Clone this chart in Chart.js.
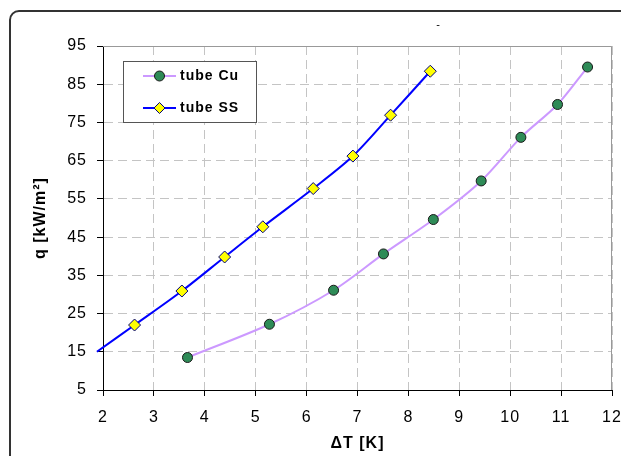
<!DOCTYPE html>
<html>
<head>
<meta charset="utf-8">
<script src="https://cdn.jsdelivr.net/npm/chart.js@4"></script>
<style>
  body { margin: 0; background: #fff; }
  canvas { display: block; }
</style>
</head>
<body>
<canvas id="qChart" width="621" height="456"></canvas>
<script>
// values
const cuX = [3.66, 5.27, 6.53, 7.51, 8.49, 9.43, 10.21, 10.93, 11.52];
const cuY = [13.5, 22.2, 31.1, 40.6, 49.6, 59.7, 71.1, 79.7, 89.5];
const ssX = [2.62, 3.55, 4.39, 5.14, 6.13, 6.91, 7.65, 8.43];
const ssY = [22.0, 30.9, 39.8, 47.7, 57.7, 66.2, 76.9, 88.4];
// SS curve keeps going a little past the y axis
const ssLineStart = [1.88, 15.0];

const xTicks = [2, 3, 4, 5, 6, 7, 8, 9, 10, 11, 12];
const yTicks = [5, 15, 25, 35, 45, 55, 65, 75, 85, 95];
const seriesNames = ['tube Cu', 'tube SS'];

const cuColor = '#cc99ff';
const ssColor = '#0000ff';

const toPoints = (xs, ys) => xs.map((x, i) => ({ x: x, y: ys[i] }));
const ssPoints = [{ x: ssLineStart[0], y: ssLineStart[1] }].concat(toPoints(ssX, ssY));

// outer frame, plot border and the tiny title dash
const framePlugin = {
    id: 'frame',
    beforeDraw(chart) {
        const ctx = chart.ctx;
        ctx.letterSpacing = '1px';
        ctx.save();
        ctx.fillStyle = '#fff';
        ctx.fillRect(0, 0, chart.width, chart.height);
        ctx.strokeStyle = '#333';
        ctx.lineWidth = 2;
        ctx.beginPath();
        ctx.roundRect(10, 11, 640, 470, 9);
        ctx.stroke();
        ctx.fillStyle = '#000';
        ctx.font = '11px Arial, "Liberation Sans"';
        ctx.textAlign = 'center';
        ctx.textBaseline = 'middle';
        ctx.fillText('-', 438.5, 25);
        ctx.restore();
    },
    beforeDatasetsDraw(chart) {
        const a = chart.chartArea;
        const ctx = chart.ctx;
        ctx.save();
        ctx.strokeStyle = '#999';
        ctx.lineWidth = 1;
        ctx.beginPath();
        ctx.moveTo(a.left, a.top + 0.5);
        ctx.lineTo(a.right - 0.5, a.top + 0.5);
        ctx.lineTo(a.right - 0.5, a.bottom);
        ctx.stroke();
        ctx.restore();
    }
};

// legend box sitting inside the plot, top left
const legendPlugin = {
    id: 'boxLegend',
    afterDatasetsDraw(chart) {
        const ctx = chart.ctx;
        ctx.save();
        ctx.fillStyle = '#fff';
        ctx.fillRect(123, 61, 134, 62);
        ctx.strokeStyle = '#555';
        ctx.lineWidth = 1;
        ctx.strokeRect(123.5, 61.5, 133, 61);

        const rows = [76, 108];
        chart.data.datasets.forEach((ds, i) => {
            const y = rows[i];
            ctx.strokeStyle = ds.borderColor;
            ctx.lineWidth = 2;
            ctx.beginPath();
            ctx.moveTo(143, y);
            ctx.lineTo(176, y);
            ctx.stroke();
            ctx.fillStyle = ds.pointBackgroundColor;
            ctx.strokeStyle = ds.pointBorderColor;
            ctx.lineWidth = 1;
            ctx.beginPath();
            if (ds.pointStyle === 'circle') {
                ctx.arc(159.5, y, 5, 0, Math.PI * 2);
            } else {
                ctx.moveTo(159.5, y - 5.5);
                ctx.lineTo(165, y);
                ctx.lineTo(159.5, y + 5.5);
                ctx.lineTo(154, y);
                ctx.closePath();
            }
            ctx.fill();
            ctx.stroke();
            ctx.fillStyle = '#000';
            ctx.font = 'bold 14px Arial, "Liberation Sans"';
            ctx.textAlign = 'left';
            ctx.textBaseline = 'middle';
            ctx.fillText(ds.label, 180, y);
        });
        ctx.restore();
    }
};

const tickFont = { family: 'Arial, "Liberation Sans"', size: 16 };
const titleFont = { family: 'Arial, "Liberation Sans"', size: 16, weight: 'bold' };

const ctxQ = document.getElementById('qChart').getContext('2d');
const qChart = new Chart(ctxQ, {
    type: 'line',
    data: {
        datasets: [{
            label: seriesNames[0],
            data: toPoints(cuX, cuY),
            borderColor: cuColor,
            borderWidth: 2,
            tension: 0.3,
            pointStyle: 'circle',
            pointRadius: 5,
            pointBackgroundColor: '#2e8b57',
            pointBorderColor: '#1a1a1a',
            pointBorderWidth: 1
        }, {
            label: seriesNames[1],
            data: ssPoints,
            borderColor: ssColor,
            borderWidth: 2,
            tension: 0.3,
            clip: { left: 7, top: 0, right: 0, bottom: 0 },
            pointStyle: 'rectRot',
            pointRadius: c => c.dataIndex === 0 ? 0 : 6,
            pointBackgroundColor: '#ffff00',
            pointBorderColor: '#000080',
            pointBorderWidth: 1
        }]
    },
    options: {
        responsive: false,
        devicePixelRatio: 1,
        animation: false,
        layout: { padding: { left: 0, top: 46, right: 9, bottom: 0 } },
        plugins: {
            legend: { display: false },
            tooltip: { enabled: false }
        },
        scales: {
            x: {
                type: 'linear',
                min: xTicks[0],
                max: xTicks[xTicks.length - 1],
                afterBuildTicks: s => { s.ticks = xTicks.map(v => ({ value: v })); },
                afterFit: s => { s.height = 66; s.paddingLeft = 0; s.paddingRight = 0; },
                ticks: { font: tickFont, color: '#000', padding: 12, maxRotation: 0 },
                grid: { color: '#c4c4c4', tickColor: '#000', tickLength: 6 },
                border: { color: '#000', width: 1, dash: [9, 5] },
                title: { display: true, text: 'ΔT [K]', font: titleFont, color: '#000', padding: { top: 0, bottom: 3 } }
            },
            y: {
                min: yTicks[0],
                max: yTicks[yTicks.length - 1],
                afterBuildTicks: s => { s.ticks = yTicks.map(v => ({ value: v })); },
                afterFit: s => { s.width = 103; s.paddingTop = 0; s.paddingBottom = 0; },
                ticks: { font: tickFont, color: '#000', padding: 10 },
                grid: { color: '#c4c4c4', tickColor: '#000', tickLength: 6 },
                border: { color: '#000', width: 1, dash: [9, 5] },
                title: { display: true, text: 'q [kW/m²]', font: titleFont, color: '#000', padding: { top: 31, bottom: 0 } }
            }
        }
    },
    plugins: [framePlugin, legendPlugin]
});
</script>
</body>
</html>
